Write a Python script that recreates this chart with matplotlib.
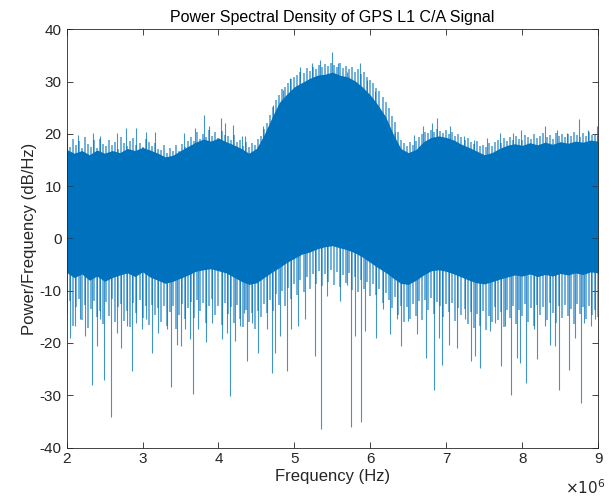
import numpy as np
import matplotlib
matplotlib.use('Agg')
import matplotlib.pyplot as plt
from matplotlib.ticker import FuncFormatter

plt.rcParams['font.family'] = ['Liberation Sans', 'DejaVu Sans']
plt.rcParams['axes.unicode_minus'] = False

# Dense core of the PSD (MHz, dB/Hz), read every 0.1 MHz
band_freq = [2.0, 2.1, 2.2, 2.3, 2.4, 2.5, 2.6, 2.7, 2.8, 2.9,
             3.0, 3.1, 3.2, 3.3, 3.4, 3.5, 3.6, 3.7, 3.8, 3.9,
             4.0, 4.1, 4.2, 4.3, 4.4, 4.5, 4.6, 4.7, 4.8, 4.9,
             5.0, 5.1, 5.2, 5.3, 5.4, 5.5, 5.6, 5.7, 5.8, 5.9,
             6.0, 6.1, 6.2, 6.3, 6.4, 6.5, 6.6, 6.7, 6.8, 6.9,
             7.0, 7.1, 7.2, 7.3, 7.4, 7.5, 7.6, 7.7, 7.8, 7.9,
             8.0, 8.1, 8.2, 8.3, 8.4, 8.5, 8.6, 8.7, 8.8, 8.9, 9.0]
band_top = [17.0, 16.3, 16.8, 16.0, 16.9, 16.3, 16.8, 16.4, 17.2, 16.8,
            17.4, 16.9, 16.3, 15.6, 15.9, 16.8, 17.6, 18.4, 19.0, 18.6,
            19.2, 18.5, 17.9, 17.2, 16.3, 17.2, 19.8, 23.0, 26.0, 27.6,
            29.0, 29.8, 30.6, 31.2, 31.4, 31.8, 31.2, 30.9, 30.1, 28.9,
            27.4, 25.5, 23.3, 20.0, 17.2, 16.4, 17.0, 18.5, 19.3, 19.6,
            19.3, 18.8, 18.0, 17.4, 16.7, 16.0, 16.4, 17.2, 17.8, 18.1,
            17.8, 18.3, 17.9, 18.4, 18.0, 18.5, 18.2, 18.6, 18.4, 18.8, 18.6]
band_bottom = [-6.5, -7.5, -6.8, -8.0, -7.2, -8.2, -7.5, -7.0, -6.6, -7.3,
               -6.4, -7.4, -8.0, -8.6, -8.2, -7.6, -7.0, -6.3, -6.0, -5.8,
               -6.2, -6.6, -7.4, -8.2, -8.8, -8.5, -7.5, -6.5, -5.6, -4.6,
               -3.8, -3.0, -2.6, -2.0, -1.6, -1.4, -1.8, -2.2, -2.8, -3.6,
               -4.6, -5.6, -6.5, -7.6, -8.6, -8.8, -8.0, -7.0, -6.2, -6.0,
               -6.3, -6.8, -7.4, -8.0, -8.5, -8.7, -8.3, -7.8, -7.4, -7.0,
               -7.2, -6.8, -7.3, -6.9, -7.2, -6.7, -7.0, -6.6, -6.9, -6.4, -6.6]

# Ragged outer edge of the noise, one value every 0.04 MHz from 2 to 9 MHz
fringe_top = [18.2, 17.4, 19.1, 17.8, 18.6, 17.2, 19.4, 18.0, 17.5, 18.8,
              17.3, 19.0, 18.1, 17.6, 18.9, 17.9, 18.4, 17.1, 19.3, 18.2,
              17.7, 18.6, 19.2, 17.8, 18.3, 17.4, 19.0, 18.5, 17.6, 18.2, 17.0,
              16.9, 17.8, 16.4, 17.2, 16.8, 17.9, 16.7, 18.1, 17.4, 18.6,
              19.3, 18.6, 20.4, 19.1, 20.0, 19.4, 20.8, 19.6, 20.3, 19.2, 20.6, 19.8, 19.5,
              18.9, 19.7, 18.4, 18.9, 17.6, 18.4, 17.5, 18.2, 17.9, 19.1, 19.6, 20.9,
              22.0, 23.6, 25.2, 26.4, 27.5, 28.6, 29.0, 29.8, 30.4, 30.9,
              31.3, 31.9, 31.6, 32.5, 32.1, 32.8, 32.4, 33.1, 32.7, 33.4, 32.9, 33.6,
              33.2, 32.8, 33.5, 32.6, 33.0, 32.3, 32.7, 31.8, 32.3, 31.5,
              31.9, 30.9, 30.3, 29.8, 28.8, 28.2, 27.1, 26.0, 25.0, 23.4, 22.3, 20.4, 18.8,
              18.2, 17.6, 18.4, 17.9, 18.6, 19.3, 19.9, 20.4, 20.1, 20.8,
              20.3, 21.0, 20.5, 20.2, 20.7, 19.9, 20.3, 19.6, 19.9, 19.3,
              18.8, 19.2, 18.4, 18.0, 18.7, 17.6, 17.9, 17.4, 18.2, 17.7,
              18.4, 18.9, 18.3, 19.2, 18.7,
              19.4, 18.9, 19.6, 19.1, 18.8, 19.8, 19.3, 19.0, 19.9, 19.2,
              19.6, 20.1, 19.4, 19.8, 19.1, 20.2, 19.5, 19.9, 19.3, 20.0,
              19.6, 20.3, 19.7, 19.4, 20.1, 19.6, 20.4, 19.8, 20.0, 19.5]
fringe_bottom = [-14.5, -12.0, -16.8, -13.1, -11.5, -15.6, -12.8, -17.2, -13.5, -11.9,
                 -15.0, -13.8, -16.4, -12.2, -14.9, -11.6, -16.0, -13.2, -12.5, -15.8,
                 -13.9, -17.0, -12.4, -14.2, -11.8, -15.3, -13.0, -16.6, -12.7, -14.6, -13.4,
                 -15.9, -12.9, -16.8, -14.1, -13.0, -17.3, -14.6, -12.6, -15.5, -13.3,
                 -12.1, -15.2, -11.7, -13.9, -12.4, -16.1, -12.9, -11.5, -14.7, -13.0,
                 -16.5, -12.3, -14.4,
                 -13.1, -16.2, -12.8, -15.4, -17.0, -13.6, -15.9, -14.3, -17.4, -13.8, -15.1, -12.6,
                 -14.2, -11.8, -13.9, -10.6, -12.7, -10.1, -12.9, -9.4, -11.6, -8.7,
                 -10.8, -7.9, -10.2, -7.4, -9.6, -6.9, -8.8, -6.3, -9.2, -6.8, -8.4, -6.1,
                 -8.9, -6.5, -9.3, -7.0, -8.6, -6.7, -9.8, -7.3, -10.2, -7.9,
                 -9.6, -8.4, -11.0, -8.8, -10.9, -9.7, -12.3, -10.5, -11.8, -13.4, -11.2, -14.6, -12.9,
                 -16.0, -13.1, -15.4, -12.5, -14.8, -12.0, -15.6, -11.8, -13.7, -11.4,
                 -14.5, -12.2, -12.9, -15.1, -12.6, -14.0, -12.4, -15.8, -13.3, -14.7,
                 -13.5, -16.3, -14.0, -17.1, -14.4, -16.7, -13.8, -17.5, -14.9, -16.0,
                 -13.2, -15.7, -14.1, -16.9, -13.6,
                 -15.3, -12.9, -16.4, -13.7, -14.8, -12.5, -15.9, -13.4, -16.8, -12.7,
                 -14.6, -13.1, -15.7, -12.3, -14.2, -16.1, -13.0, -15.2, -12.8, -14.9,
                 -13.5, -16.3, -12.6, -14.4, -13.2, -15.5, -12.9, -14.7, -13.6, -15.0]

# Upward spikes (MHz, peak dB/Hz)
up_freq = [2.01, 2.15, 2.35, 2.44, 2.66, 2.78, 2.91, 3.05, 3.17, 3.54,
           3.69, 3.81, 3.87, 4.03, 4.09, 4.19, 4.31, 4.35, 4.59, 4.72,
           4.85, 4.94, 5.07, 5.23, 5.34, 5.50, 5.57, 5.69, 5.86, 5.95,
           6.06, 6.18, 6.33, 6.57, 6.69, 6.81, 6.88, 7.05, 7.23, 7.36,
           7.53, 7.71, 7.88, 7.99, 8.30, 8.46, 8.59, 8.75, 8.87, 8.98]
up_peak = [20.1, 19.8, 20.2, 19.5, 20.1, 21.1, 21.1, 20.4, 20.4, 20.1,
           21.1, 23.6, 21.5, 23.0, 22.0, 21.7, 19.5, 19.5, 21.4, 25.5,
           28.4, 30.6, 32.8, 33.5, 34.1, 35.7, 33.5, 31.8, 33.5, 30.3,
           28.1, 23.6, 20.4, 19.8, 21.4, 22.0, 23.0, 21.4, 19.5, 18.9,
           19.2, 20.1, 20.1, 20.8, 21.4, 20.8, 20.1, 22.8, 20.8, 21.4]

# Downward spikes (MHz, dip dB/Hz)
down_freq = [2.04, 2.11, 2.18, 2.24, 2.33, 2.40, 2.44, 2.49, 2.58, 2.66,
             2.72, 2.79, 2.86, 2.92, 2.99, 3.05, 3.12, 3.21, 3.32, 3.37,
             3.45, 3.50, 3.56, 3.62, 3.66, 3.73, 3.84, 3.91, 4.04, 4.11,
             4.15, 4.22, 4.28, 4.33, 4.37, 4.44, 4.52, 4.64, 4.70, 4.74,
             4.81, 4.90, 4.96, 5.05, 5.14, 5.27, 5.35, 5.43, 5.60, 5.69,
             5.75, 5.80, 5.88, 5.93, 6.08, 6.17, 6.26, 6.35, 6.41, 6.50,
             6.61, 6.73, 6.84, 6.90, 6.94, 7.03, 7.14, 7.25, 7.32, 7.38,
             7.45, 7.58, 7.64, 7.72, 7.77, 7.85, 7.93, 7.97, 8.05, 8.15,
             8.20, 8.30, 8.37, 8.43, 8.49, 8.62, 8.70, 8.78, 8.81, 8.90, 8.96]
down_dip = [-19.0, -16.7, -15.4, -18.7, -28.0, -20.6, -15.4, -27.0, -34.1, -18.0,
            -20.9, -16.7, -25.4, -16.1, -17.4, -15.4, -22.0, -18.0, -17.4, -28.5,
            -20.3, -20.6, -17.4, -19.3, -29.7, -17.4, -19.9, -16.1, -19.3, -18.0,
            -30.1, -19.6, -16.7, -14.2, -23.5, -16.1, -21.9, -17.4, -25.8, -21.9,
            -18.7, -25.4, -17.4, -16.7, -15.4, -22.5, -36.4, -11.0, -11.9, -9.0,
            -36.0, -18.7, -35.2, -17.7, -19.0, -13.5, -18.3, -15.4, -20.6, -15.8,
            -18.3, -22.8, -29.0, -19.0, -24.2, -20.3, -20.9, -15.4, -23.5, -22.5,
            -24.7, -17.7, -16.1, -24.4, -16.7, -30.0, -22.8, -23.8, -27.6, -17.4,
            -23.0, -16.7, -20.3, -20.6, -28.9, -25.1, -19.0, -31.5, -16.1, -16.7, -15.4]

blue = '#0072BD'
grey = '#262626'
hz = 1e6

fig = plt.figure(figsize=(6.11, 5.04), dpi=100)
ax = fig.add_axes([0.109, 0.112, 0.870, 0.830])

fringe_freq = np.linspace(2, 9, len(fringe_top)) * hz
ax.vlines(fringe_freq, 0, fringe_top, color=blue, linewidth=1.1, alpha=0.7)
ax.vlines(fringe_freq, fringe_bottom, 0, color=blue, linewidth=1.1, alpha=0.7)
ax.fill_between(np.array(band_freq) * hz, band_bottom, band_top,
                color=blue, linewidth=0)
ax.vlines(np.array(up_freq) * hz, 5, up_peak, color=blue, linewidth=0.8, alpha=0.75)
ax.vlines(np.array(down_freq) * hz, down_dip, 0, color=blue, linewidth=0.8, alpha=0.75)

ax.set_xlim(2e6, 9e6)
ax.set_ylim(-40, 40)
ax.set_xticks(np.arange(2, 10) * hz)
ax.set_yticks(np.arange(-40, 41, 10))
ax.xaxis.set_major_formatter(FuncFormatter(lambda v, p: f'{v / hz:g}'))

ax.tick_params(direction='in', top=True, right=True, length=4, width=0.6,
               labelsize=11, colors=grey, labelcolor=grey)
for s in ax.spines.values():
    s.set_color(grey)
    s.set_linewidth(0.6)

ax.set_title('Power Spectral Density of GPS L1 C/A Signal', fontsize=11.5, color='black', pad=5)
ax.set_xlabel('Frequency (Hz)', fontsize=12, color=grey, labelpad=2)
ax.set_ylabel('Power/Frequency (dB/Hz)', fontsize=12, color=grey, labelpad=2)
fig.text(0.958, 0.014, r'$\times10^6$', fontsize=11, color=grey, ha='center', va='bottom')

fig.savefig('out.png', dpi=100)
